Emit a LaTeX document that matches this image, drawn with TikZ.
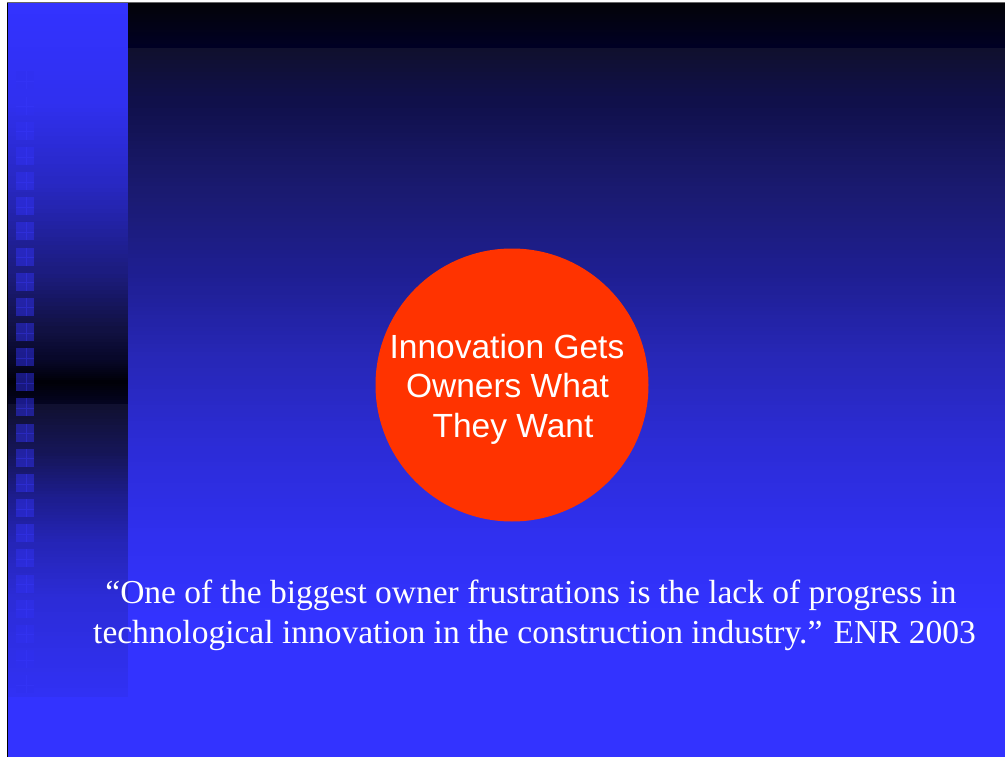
\documentclass[tikz,border=0pt]{standalone}
\usepackage{fontspec}
\setmainfont{Liberation Serif}
\newfontfamily\arialf{Liberation Sans}
\definecolor{slideblue}{HTML}{3333FF}
\definecolor{circorange}{HTML}{FF3300}
% top band
\definecolor{tA}{HTML}{040408}
\definecolor{tB}{HTML}{000024}
% main background stops
\definecolor{mA}{HTML}{10102E}
\definecolor{mB}{HTML}{10104A}
\definecolor{mC}{HTML}{1A1A70}
\definecolor{mD}{HTML}{1E1E90}
\definecolor{mE}{HTML}{2727B8}
\definecolor{mF}{HTML}{2C2CD8}
\definecolor{mG}{HTML}{3030F0}
% strip stops
\definecolor{sA}{HTML}{3333FF}
\definecolor{sB}{HTML}{3030F0}
\definecolor{sC}{HTML}{2828C4}
\definecolor{sD}{HTML}{1C1C80}
\definecolor{sE}{HTML}{111142}
\definecolor{sF}{HTML}{08082A}
\definecolor{sG}{HTML}{000008}
\definecolor{sH}{HTML}{040420}
\definecolor{sI}{HTML}{101030}
\definecolor{sJ}{HTML}{151555}
\definecolor{sK}{HTML}{1D1D90}
\definecolor{sL}{HTML}{2525B8}
\definecolor{sM}{HTML}{2C2CD8}
\definecolor{sN}{HTML}{3131F4}
\definecolor{sqfill}{HTML}{3030F0}
\definecolor{sqline}{HTML}{3A3AFF}
\newcommand\vgrad[7]{% x1 x2 y1 y2 colA colB steps
  \pgfmathtruncatemacro\nlast{#7-1}%
  \foreach \k in {0,...,\nlast}{%
    \pgfmathtruncatemacro\pp{100*\k/\nlast}%
    \pgfmathsetmacro\ya{#3+(#4-#3)*\k/#7}%
    \pgfmathsetmacro\yb{#3+(#4-#3)*(\k+1)/#7+0.5}%
    \fill[#6!\pp!#5] (#1,\ya) rectangle (#2,\yb);
  }}
\tikzset{
  circtext/.style={text=white, font=\arialf\fontsize{33.5}{40}\selectfont, inner sep=0pt, anchor=base},
  quotetext/.style={text=white, font=\fontsize{33.5}{40}\selectfont, inner sep=0pt, anchor=base},
  tile/.style={fill=sqfill, fill opacity=0.5},
  tilecross/.style={draw=sqline, draw opacity=0.35, line width=0.8pt}
}
\begin{document}
\begin{tikzpicture}[x=1pt,y=-1pt]
\useasboundingbox (0,0) rectangle (1005,757);
\fill[white] (0,0) rectangle (1005,757);
\fill[slideblue] (7,2) rectangle (1005,757);
% main background gradient
\vgrad{7}{1005}{2}{48}{tA}{tB}{23}
\vgrad{7}{1005}{48}{100}{mA}{mB}{13}
\vgrad{7}{1005}{100}{190}{mB}{mC}{22}
\vgrad{7}{1005}{190}{270}{mC}{mD}{20}
\vgrad{7}{1005}{270}{360}{mD}{mE}{22}
\vgrad{7}{1005}{360}{450}{mE}{mF}{22}
\vgrad{7}{1005}{450}{540}{mF}{mG}{22}
\vgrad{7}{1005}{540}{620}{mG}{slideblue}{20}
% left strip
\vgrad{7}{128}{2}{100}{sA}{sB}{24}
\vgrad{7}{128}{100}{180}{sB}{sC}{20}
\vgrad{7}{128}{180}{270}{sC}{sD}{22}
\vgrad{7}{128}{270}{330}{sD}{sE}{15}
\vgrad{7}{128}{330}{358}{sE}{sF}{9}
\vgrad{7}{128}{358}{382}{sF}{sG}{12}
\vgrad{7}{128}{382}{404}{sG}{sH}{11}
\vgrad{7}{128}{404}{450}{sI}{sJ}{15}
\vgrad{7}{128}{450}{500}{sJ}{sK}{16}
\vgrad{7}{128}{500}{545}{sK}{sL}{15}
\vgrad{7}{128}{545}{600}{sL}{sM}{18}
\vgrad{7}{128}{600}{696.5}{sM}{sN}{24}
% tiles
\foreach \n in {0,...,24}{
  \pgfmathsetmacro\yt{71.5+25.15*\n}
  \fill[tile] (16,\yt) rectangle (34,\yt+18);
  \draw[tilecross] (26,\yt) -- (26,\yt+18) (16,\yt+10) -- (34,\yt+10);
}
% slide edges
\draw[black, line width=1.5pt] (7.6,2) -- (7.6,757);
\draw[gray!80!black, line width=1pt] (7,2.5) -- (1005,2.5);
% circle and its text
\node[circle, fill=circorange, minimum size=273pt, inner sep=0pt] (circ) at (512,385) {};
\node[circtext] (t1) at (507,358) {Innovation Gets};
\node[circtext] (t2) at (507.5,397) {Owners What};
\node[circtext] (t3) at (513,437) {They Want};
% quote
\node[quotetext] (q1) at (531,603) {“One of the biggest owner frustrations is the lack of progress in};
\node[quotetext] (q2) at (534.5,643) {technological innovation in the construction industry.” ENR 2003};
\end{tikzpicture}
\end{document}
